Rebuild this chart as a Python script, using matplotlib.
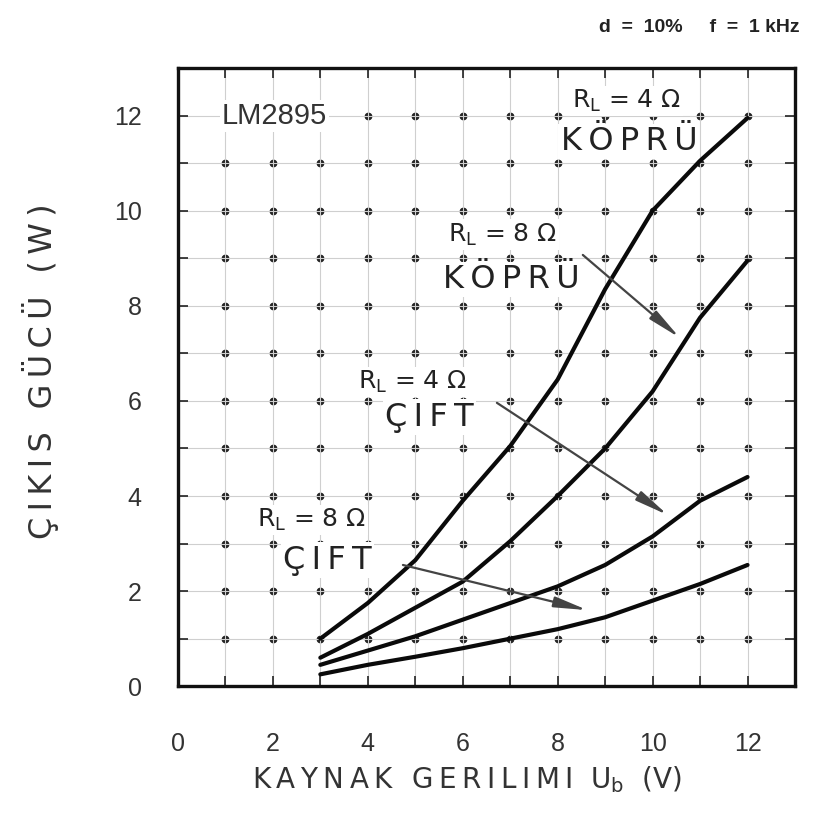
import matplotlib.pyplot as plt
import numpy as np

# LM2895 output power vs. supply voltage (d = 10 %, f = 1 kHz)
voltage = [3, 4, 5, 6, 7, 8, 9, 10, 11, 12]
p_bridge_4 = [1.0, 1.75, 2.65, 3.9, 5.05, 6.45, 8.35, 10.0, 11.05, 11.95]
p_bridge_8 = [0.6, 1.1, 1.65, 2.2, 3.05, 4.0, 5.0, 6.2, 7.75, 8.95]
p_dual_4 = [0.45, 0.75, 1.05, 1.4, 1.75, 2.1, 2.55, 3.15, 3.9, 4.4]
p_dual_8 = [0.25, 0.45, 0.62, 0.8, 1.0, 1.2, 1.45, 1.8, 2.15, 2.55]

x_ticks = [0, 2, 4, 6, 8, 10, 12]
y_ticks = [0, 2, 4, 6, 8, 10, 12]
grid_steps = list(range(0, 14))

NARROW = ['Liberation Sans', 'DejaVu Sans']
WIDE = ['DejaVu Sans']


def spread(s):
    # loose letter spacing like the printed lettering
    return '\u2009'.join(s)


fig = plt.figure(figsize=(8.2, 8.15), dpi=100)
ax = fig.add_axes([0.217, 0.158, 0.7525, 0.7585])
ax.set_xlim(0, 13)
ax.set_ylim(0, 13)

ax.set_xticks(x_ticks)
ax.set_yticks(y_ticks)
ax.set_xticks(grid_steps, minor=True)
ax.set_yticks(grid_steps, minor=True)
ax.tick_params(which='both', direction='in', top=True, right=True,
               length=7, width=1.2, color='#222')
ax.tick_params(axis='x', which='major', pad=33, labelsize=18, labelcolor='#333')
ax.tick_params(axis='y', which='major', pad=26, labelsize=18, labelcolor='#333')
for lab in ax.get_xticklabels() + ax.get_yticklabels():
    lab.set_family(NARROW)

ax.grid(which='both', color='#cfcfcf', lw=0.8, zorder=0)
for s in ax.spines.values():
    s.set_linewidth(2.4)
    s.set_color('#111')

# dots on the grid crossings
gx, gy = np.meshgrid(grid_steps[1:13], grid_steps[1:13])
ax.plot(gx.ravel(), gy.ravel(), 'o', color='#222', ms=4.6, zorder=1, ls='none')

for p in [p_bridge_4, p_bridge_8, p_dual_4, p_dual_8]:
    ax.plot(voltage, p, color='#0a0a0a', lw=3.0, solid_capstyle='round',
            solid_joinstyle='round', zorder=6)

box = dict(facecolor='white', edgecolor='none', pad=1.5)

ax.text(0.93, 12.0, 'LM2895', fontsize=21, family=NARROW, color='#333',
        va='center', ha='left', bbox=box, zorder=3)

ax.text(8.3, 12.3, r'R$_\mathregular{L}$ = 4 Ω', fontsize=18, family=WIDE,
        color='#222', va='center', ha='left', bbox=box, zorder=3)
ax.text(9.5, 11.45, spread('KÖPRÜ'), fontsize=23, family=WIDE, color='#222',
        va='center', ha='center', bbox=box, zorder=3)

ax.text(5.68, 9.5, r'R$_\mathregular{L}$ = 8 Ω', fontsize=18, family=WIDE,
        color='#222', va='center', ha='left', bbox=box, zorder=3)
ax.text(7.03, 8.55, spread('KÖPRÜ'), fontsize=23, family=WIDE, color='#222',
        va='center', ha='center', bbox=box, zorder=3)

ax.text(3.79, 6.4, r'R$_\mathregular{L}$ = 4 Ω', fontsize=18, family=WIDE,
        color='#222', va='center', ha='left', bbox=box, zorder=3)
ax.text(5.3, 5.66, spread('ÇIFT'), fontsize=23, family=WIDE, color='#222',
        va='center', ha='center', bbox=box, zorder=3)

ax.text(1.66, 3.5, r'R$_\mathregular{L}$ = 8 Ω', fontsize=18, family=WIDE,
        color='#222', va='center', ha='left', bbox=box, zorder=3)
ax.text(3.15, 2.65, spread('ÇIFT'), fontsize=23, family=WIDE, color='#222',
        va='center', ha='center', bbox=box, zorder=3)

arrow = dict(arrowstyle='-|>,head_length=1.0,head_width=0.16', color='#444',
             lw=1.6, shrinkA=0, shrinkB=0, mutation_scale=20)
ax.annotate('', xy=(10.57, 7.33), xytext=(8.53, 9.07), arrowprops=arrow, zorder=7)
ax.annotate('', xy=(10.32, 3.6), xytext=(6.72, 5.96), arrowprops=arrow, zorder=7)
ax.annotate('', xy=(8.63, 1.6), xytext=(4.74, 2.55), arrowprops=arrow, zorder=7)

fig.text(0.975, 0.966, 'd  =  10%     f  =  1 kHz', fontsize=14, fontweight='bold',
         family=NARROW, color='#222', ha='right', va='center')

fig.text(0.05, 0.544, spread('ÇIKIS GÜCÜ (W)'), rotation=90, fontsize=23,
         family=WIDE, color='#333', ha='center', va='center')
fig.text(0.569, 0.044, spread('KAYNAK GERILIMI') + r'  U$_\mathregular{b}$  (V)',
         fontsize=20, family=WIDE, color='#333', ha='center', va='center')

fig.savefig('out.png', dpi=100)
